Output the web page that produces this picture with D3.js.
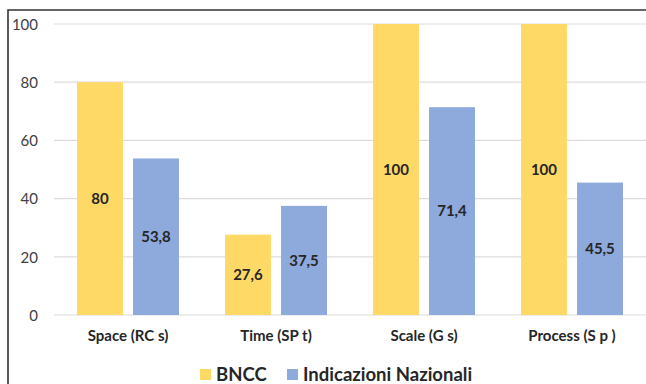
<!DOCTYPE html>
<html>
<head>
<meta charset="utf-8">
<script src="https://cdn.jsdelivr.net/npm/d3@7"></script>
<style>
html,body{margin:0;padding:0;background:#fff;}
svg{display:block;}
</style>
</head>
<body>
<svg id="chart" width="646" height="384"></svg>
<script>
const categories = ["Space (RC s)", "Time (SP t)", "Scale (G s)", "Process (S p )"];
const seriesNames = ["BNCC", "Indicazioni Nazionali"];
const bnccValues = [80, 27.6, 100, 100];
const indicazioniValues = [53.8, 37.5, 71.4, 45.5];
const valueLabels = [["80", "27,6", "100", "100"], ["53,8", "37,5", "71,4", "45,5"]];
const yTicks = [0, 20, 40, 60, 80, 100];
const colors = ["#FFD966", "#8EA9DB"];

const svg = d3.select("#chart");
const W = 646, H = 384;
const font = "Lato, 'Open Sans', sans-serif";

// frame
svg.append("path").attr("d", `M8,${H} V10 H${W}`).attr("fill", "none")
  .attr("stroke", "#333").attr("stroke-width", 1.6);

const y = d3.scaleLinear().domain([0, 100]).range([315, 24]);
const x0 = d3.scaleBand().domain(categories).range([54, 646]).padding(0);
const x1 = d3.scaleBand().domain(seriesNames).range([23, 125]).paddingInner(0.18).paddingOuter(0);

// gridlines
svg.append("g").selectAll("line").data(yTicks).join("line")
  .attr("x1", 54).attr("x2", W)
  .attr("y1", d => y(d)).attr("y2", d => y(d))
  .attr("stroke", "#dcdcdc").attr("stroke-width", 1.2);

// y axis labels
const yAxis = d3.axisLeft(y).tickValues(yTicks).tickSize(0).tickPadding(0);
const yg = svg.append("g").attr("transform", "translate(38,0)").call(yAxis);
yg.select(".domain").remove();
yg.selectAll("text").attr("font-family", font).attr("font-size", 15)
  .attr("fill", "#404040").attr("dy", "0.35em");

const data = categories.map((c, i) => ({cat: c, vals: [bnccValues[i], indicazioniValues[i]]}));

const groups = svg.append("g").selectAll("g").data(data).join("g")
  .attr("transform", d => `translate(${x0(d.cat)},0)`);

groups.selectAll("rect").data(d => d.vals.map((v, j) => ({s: seriesNames[j], v, j})))
  .join("rect")
  .attr("x", d => x1(d.s)).attr("width", x1.bandwidth())
  .attr("y", d => y(d.v)).attr("height", d => y(0) - y(d.v))
  .attr("fill", d => colors[d.j]);

groups.each(function(d, i) {
  d3.select(this).selectAll("text.val").data(d.vals.map((v, j) => ({s: seriesNames[j], v, j})))
    .join("text").attr("class", "val")
    .attr("x", e => x1(e.s) + x1.bandwidth() / 2)
    .attr("y", e => (y(e.v) + y(0)) / 2)
    .attr("dy", "0.35em")
    .attr("text-anchor", "middle")
    .attr("font-family", font).attr("font-weight", "bold").attr("font-size", 15)
    .attr("fill", "#262626")
    .text(e => valueLabels[e.j][i]);
});

// category labels
const xAxis = d3.axisBottom(x0).tickSize(0).tickPadding(0);
const xg = svg.append("g").attr("transform", "translate(0,336)").call(xAxis);
xg.select(".domain").remove();
xg.selectAll("text").attr("font-family", font).attr("font-weight", "bold")
  .attr("font-size", 15).attr("fill", "#262626").attr("dy", "0.35em");

// legend
const legendX = [200, 287];
const lg = svg.append("g");
seriesNames.forEach((s, j) => {
  lg.append("rect").attr("x", legendX[j]).attr("y", 369).attr("width", 11).attr("height", 11)
    .attr("fill", colors[j]);
  lg.append("text").attr("x", legendX[j] + 16).attr("y", 381)
    .attr("font-family", font).attr("font-weight", "bold").attr("font-size", 18.5)
    .attr("fill", "#262626").text(s);
});
</script>
</body>
</html>
